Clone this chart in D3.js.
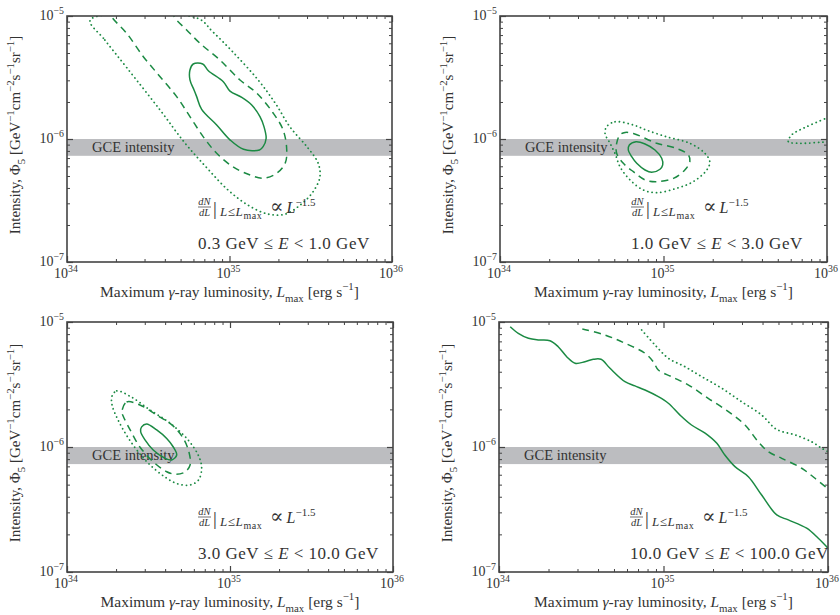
<!DOCTYPE html>
<html>
<head>
<meta charset="utf-8">
<script src="https://cdn.jsdelivr.net/npm/d3@7"></script>
<style>
  body { margin: 0; background: #fff; }
  svg text { font-family: "Liberation Serif", "DejaVu Serif", serif; fill: #333; }
</style>
</head>
<body>
<svg id="chart" width="840" height="615"></svg>
<script>
// contour points: [L in 1e34 erg/s, Phi in 1e-6 GeV^-1 cm^-2 s^-1 sr^-1]
const binLabels = [["0.3", "1.0"], ["1.0", "3.0"], ["3.0", "10.0"], ["10.0", "100.0"]]
const gceBand = [0.73, 1.0]

const bin1Solid = [[5.98,4.07],[6.84,4.07],[7.41,3.59],[9.16,2.92],[10.07,2.45],[11.9,2.18],[13.7,1.89],
  [15.4,1.52],[16.3,1.26],[16.8,1.01],[16.1,0.866],[15.3,0.814],[12.2,0.825],[10.1,0.98],[8.34,1.30],
  [6.74,1.74],[6.28,2.21],[6.05,2.50],[5.71,3.02],[5.71,3.64]]
const bin1Dashed = [[1.85,10.3],[1.91,9.58],[2.33,7.23],[2.95,4.67],[3.74,3.21],[4.73,2.21],[5.71,1.52],[6.90,1.04],
  [8.34,0.765],[10.5,0.595],[13.4,0.509],[16.1,0.479],[19.5,0.526],[22.0,0.634],[22.5,0.814],[21.4,1.18],
  [18.6,1.62],[14.7,2.36],[11.6,3.02],[8.74,4.38],[6.58,6.00],[5.45,7.69],[4.62,9.58],[4.45,10.3]]
const bin1Dotted = [[1.39,9.28],[1.71,6.38],[2.34,3.78],[3.74,1.72],[5.32,0.927],[7.27,0.581],[9.79,0.385],
  [13.0,0.290],[17.3,0.245],[22.0,0.245],[27.2,0.290],[32.6,0.371],[36.0,0.491],[35.1,0.638],[30.4,0.845],
  [23.6,1.25],[19.1,1.96],[15.0,3.02],[10.5,5.09],[7.91,7.41],[6.31,9.63]]

const bin2Solid = [[6.18,0.894],[6.79,0.951],[7.71,0.911],[8.87,0.814],[9.75,0.697],[9.89,0.615],[9.52,0.568],
  [8.47,0.536],[7.71,0.560],[6.86,0.634],[6.39,0.718],[6.09,0.814]]
const bin2Dashed = [[5.82,1.13],[6.54,1.11],[9.08,0.923],[12.0,0.839],[14.2,0.741],[14.5,0.653],[13.5,0.560],
  [11.5,0.479],[9.08,0.450],[7.71,0.465],[6.54,0.542],[5.68,0.634],[5.17,0.766],[5.17,0.923],[5.42,1.08]]
const bin2Dotted = [[4.49,1.26],[5.05,1.38],[6.54,1.30],[7.89,1.18],[10.5,1.04],[14.5,0.923],[17.9,0.766],
  [19.2,0.653],[18.4,0.560],[15.2,0.450],[12.0,0.397],[9.08,0.366],[7.52,0.385],[6.24,0.465],[5.42,0.595],
  [5.05,0.766],[4.71,0.923],[4.39,1.11]]
const bin2DottedEdge = [[102,1.50],[75.2,1.26],[60.8,1.08],[58.0,0.951],[68.4,0.923],[90.6,0.940],[102,0.951]]

const bin3Solid = [[2.87,1.45],[3.08,1.53],[3.55,1.37],[4.09,1.17],[4.49,1.00],[4.71,0.863],[4.39,0.787],
  [3.99,0.812],[3.38,0.946],[3.01,1.14],[2.83,1.33]]
const bin3Dashed = [[2.17,1.91],[2.32,2.29],[2.80,2.17],[3.55,1.80],[4.41,1.50],[5.15,1.18],[5.60,0.912],
  [5.69,0.718],[5.30,0.631],[4.66,0.605],[4.09,0.634],[3.38,0.762],[2.80,1.00],[2.44,1.37],[2.21,1.77]]
const bin3Dotted = [[1.89,2.56],[2.02,2.81],[2.47,2.52],[3.23,1.98],[4.29,1.55],[5.53,1.14],[6.45,0.837],
  [6.70,0.676],[6.41,0.544],[5.69,0.497],[4.80,0.506],[3.99,0.575],[3.10,0.759],[2.44,1.12],[2.06,1.64],[1.89,2.17]]

const bin4Solid = [[1.17,9.17],[1.31,8.12],[1.51,7.41],[1.73,7.18],[2.04,7.08],[2.29,6.34],[2.58,5.28],
  [2.90,4.68],[3.33,4.81],[3.74,5.03],[4.17,5.03],[4.73,4.26],[5.83,3.33],[6.71,3.08],[7.72,2.86],[9.30,2.53],
  [10.7,2.24],[12.6,1.80],[14.8,1.50],[17.9,1.29],[21.1,1.07],[23.6,0.863],[27.2,0.696],[32.8,0.579],
  [39.5,0.413],[48.8,0.286],[57.4,0.261],[74.2,0.224],[87.3,0.186],[100,0.155]]
const bin4Dashed = [[3.21,8.79],[4.41,7.87],[5.83,6.76],[7.72,5.62],[8.67,4.81],[9.30,4.13],[11.2,3.65],
  [14.2,3.13],[18.7,2.45],[24.8,1.92],[31.3,1.50],[37.7,1.10],[43.4,0.917],[52.3,0.812],[69.2,0.676],
  [83.4,0.562],[100,0.462]]
const bin4Dotted = [[7.37,8.63],[8.88,6.55],[10.7,5.13],[13.5,4.39],[17.1,3.65],[22.6,2.95],[29.9,2.30],
  [39.5,1.80],[47.6,1.41],[52.3,1.33],[63.0,1.25],[79.6,1.10],[91.6,0.977],[100,0.917]]

const xMajor = [1e34, 1e35, 1e36]
const xMajorExp = ["34", "35", "36"]
const yMajor = [1e-5, 1e-6, 1e-7]
const yMajorExp = ["\u22125", "\u22126", "\u22127"]

const green = "#1b8a43"
const svg = d3.select("#chart")

const panels = [
  {box: [67, 392, 16, 262], solid: bin1Solid, dashed: [bin1Dashed], dotted: [bin1Dotted], closed: true},
  {box: [500, 827, 16, 262], solid: bin2Solid, dashed: [bin2Dashed], dotted: [bin2Dotted, bin2DottedEdge], closed: true},
  {box: [67, 393, 322, 572], solid: bin3Solid, dashed: [bin3Dashed], dotted: [bin3Dotted], closed: true},
  {box: [499, 828, 322, 572], solid: bin4Solid, dashed: [bin4Dashed], dotted: [bin4Dotted], closed: false}
]

// text with super/subscripts, parts = [text, mode]
function rich(t, parts, size, k = 0.7) {
  let shift = 0
  parts.forEach(([s, m]) => {
    const target = m.includes("^") ? -0.42 * size : m.includes("_") ? 0.3 * size : 0
    const ts = t.append("tspan").attr("dy", target - shift).text(s)
    shift = target
    if (m.includes("^") || m.includes("_")) ts.attr("font-size", size * k)
    if (m.includes("i")) ts.attr("font-style", "italic")
  })
  return t
}

panels.forEach((p, i) => {
  const [x0, x1, y0, y1] = p.box
  const x = d3.scaleLog().domain([1e34, 1e36]).range([x0, x1])
  const y = d3.scaleLog().domain([1e-7, 1e-5]).range([y1, y0])
  const g = svg.append("g")

  g.append("clipPath").attr("id", "clip" + i)
    .append("rect").attr("x", x0).attr("y", y0).attr("width", x1 - x0).attr("height", y1 - y0)

  // GCE band
  g.append("rect")
    .attr("x", x0).attr("width", x1 - x0)
    .attr("y", y(gceBand[1] * 1e-6)).attr("height", y(gceBand[0] * 1e-6) - y(gceBand[1] * 1e-6))
    .attr("fill", "#bcbdc0")

  g.append("text").attr("x", x0 + 25).attr("y", y(gceBand[1] * 1e-6) + 13)
    .attr("font-size", 14.5).text("GCE intensity")

  const line = d3.line().x(d => x(d[0] * 1e34)).y(d => y(d[1] * 1e-6)).curve(d3.curveCatmullRom)
  const closedLine = d3.line().x(d => x(d[0] * 1e34)).y(d => y(d[1] * 1e-6)).curve(d3.curveCatmullRomClosed)
  const cg = g.append("g").attr("clip-path", `url(#clip${i})`).attr("fill", "none").attr("stroke", green)

  p.dotted.forEach((d, k) => {
    const closed = p.closed && k === 0
    cg.append("path").attr("d", (closed ? closedLine : line)(d))
      .attr("stroke-width", 1.8).attr("stroke-linecap", "round").attr("stroke-dasharray", "0.1,4.3")
  })
  p.dashed.forEach(d => {
    cg.append("path").attr("d", (p.closed ? closedLine : line)(d))
      .attr("stroke-width", 1.5).attr("stroke-dasharray", "7,5")
  })
  cg.append("path").attr("d", (p.closed ? closedLine : line)(p.solid))
    .attr("stroke-width", 1.5)

  // dN/dL annotation
  const ax = x0 + 131, ay = y1 - 55
  const fr = g.append("g").attr("font-size", 10.5).attr("font-style", "italic")
  fr.append("text").attr("x", ax + 6.5).attr("y", ay - 2).attr("text-anchor", "middle").text("dN")
  fr.append("text").attr("x", ax + 6.5).attr("y", ay + 9).attr("text-anchor", "middle").text("dL")
  g.append("line").attr("x1", ax).attr("x2", ax + 13).attr("y1", ay).attr("y2", ay)
    .attr("stroke", "#333").attr("stroke-width", 0.7)
  g.append("text").attr("x", ax + 15).attr("y", ay + 8).attr("font-size", 19).text("|")
  const sub = g.append("text").attr("x", ax + 22).attr("y", ay + 9).attr("font-size", 13).attr("letter-spacing", 0.6)
  sub.append("tspan").attr("font-style", "italic").text("L")
  sub.append("tspan").text("\u2264")
  sub.append("tspan").attr("font-style", "italic").text("L")
  sub.append("tspan").attr("font-size", 10).attr("dy", 2.5).text("max")
  const prop = g.append("text").attr("x", ax + 72).attr("y", ay + 6).attr("font-size", 16)
  prop.append("tspan").attr("font-size", 20).text("\u221D")
  prop.append("tspan").attr("font-style", "italic").attr("dx", 3).text("L")
  prop.append("tspan").attr("font-size", 11).attr("dy", -7).text("\u22121.5")

  // energy bin
  const [lo, hi] = binLabels[i]
  rich(g.append("text").attr("x", x0 + 131).attr("y", y1 - 13).attr("font-size", 17).attr("letter-spacing", 0.5),
    [[lo + " GeV \u2264 ", ""], ["E", "i"], [" < " + hi + " GeV", ""]], 17)

  // frame and ticks (inward, all four sides)
  const minorX = d3.range(34, 36).flatMap(e => d3.range(2, 10).map(m => m * 10 ** e))
  const minorY = d3.range(-7, -5).flatMap(e => d3.range(2, 10).map(m => m * 10 ** e))
  const axes = [
    [d3.axisBottom(x), `translate(0,${y1})`, xMajor, minorX],
    [d3.axisTop(x), `translate(0,${y0})`, xMajor, minorX],
    [d3.axisLeft(y), `translate(${x0},0)`, yMajor, minorY],
    [d3.axisRight(y), `translate(${x1},0)`, yMajor, minorY]
  ]
  axes.forEach(([ax0, tr, major, minor]) => {
    g.append("g").attr("transform", tr)
      .call(ax0.tickValues(minor).tickSize(-3).tickFormat(""))
      .call(s => s.select(".domain").remove())
      .selectAll("line").attr("stroke", "#444")
    g.append("g").attr("transform", tr)
      .call(ax0.tickValues(major).tickSize(-6).tickFormat(""))
      .call(s => s.select(".domain").remove())
      .selectAll("line").attr("stroke", "#444").attr("stroke-width", 1.2)
  })
  g.append("rect").attr("x", x0).attr("y", y0).attr("width", x1 - x0).attr("height", y1 - y0)
    .attr("fill", "none").attr("stroke", "#444").attr("stroke-width", 1.6)

  // tick labels
  xMajor.forEach((v, k) => {
    rich(g.append("text").attr("x", x(v) - 1).attr("y", y1 + 16).attr("text-anchor", "middle").attr("font-size", 14),
      [["10", ""], [xMajorExp[k], "^"]], 14)
  })
  yMajor.forEach((v, k) => {
    rich(g.append("text").attr("x", x0 - 3).attr("y", y(v) + 4).attr("text-anchor", "end").attr("font-size", 14),
      [["10", ""], [yMajorExp[k], "^"]], 14)
  })

  // axis titles
  rich(g.append("text").attr("x", (x0 + x1) / 2).attr("y", y1 + 35).attr("text-anchor", "middle").attr("font-size", 15.5),
    [["Maximum ", ""], ["\u03B3", "i"], ["-ray luminosity, ", ""], ["L", "i"], ["max", "_"], [" [erg s", ""], ["\u22121", "^"], ["]", ""]], 15.5)
  rich(g.append("text").attr("transform", `translate(${x0 - 47},${(y0 + y1) / 2 - 4}) rotate(-90)`)
    .attr("text-anchor", "middle").attr("font-size", 15),
    [["Intensity, \u03A6", ""], ["5", "_"], [" [GeV", ""], ["\u22121", "^"], ["cm", ""], ["\u22122", "^"],
     ["s", ""], ["\u22121", "^"], ["sr", ""], ["\u22121", "^"], ["]", ""]], 15, 0.72)
})
</script>
</body>
</html>
